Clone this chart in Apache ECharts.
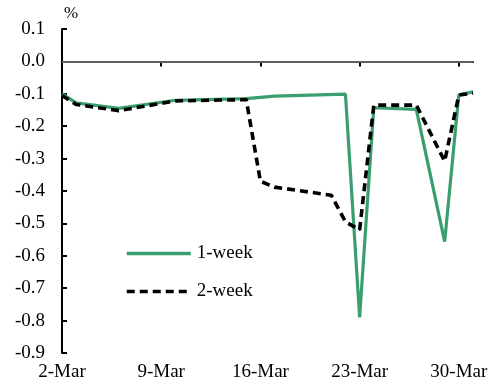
<!DOCTYPE html>
<html>
<head>
<meta charset="utf-8">
<script src="https://cdn.jsdelivr.net/npm/echarts@6/dist/echarts.min.js"></script>
<style>
html,body{margin:0;padding:0;background:#fff;}
#c{width:494px;height:391px;}
</style>
</head>
<body>
<div id="c"></div>
<script>
// Categories: every calendar day 2-Mar .. 31-Mar
var days = [];
for (var d = 2; d <= 31; d++) days.push(d + '-Mar');

// Series values (null = no observation, line joins observed points)
var oneWeek = [
  -0.100, -0.128, null, null, -0.145, null, null, null, -0.120, null,
  null, null, null, -0.115, null, -0.107, null, null, null, null,
  -0.101, -0.790, -0.143, null, null, -0.148, null, -0.556, -0.103, -0.094
];
var twoWeek = [
  -0.105, -0.133, null, null, -0.152, null, null, null, -0.122, null,
  null, null, null, -0.118, -0.370, -0.388, null, null, null, -0.413,
  -0.495, -0.520, -0.135, null, null, -0.135, null, -0.308, -0.104, -0.098
];

var yTicks = { min: -0.9, max: 0.1, step: 0.1 };
var seriesNames = ['1-week', '2-week'];

var FONT = "'Liberation Serif','Times New Roman',serif";
var chart = echarts.init(document.getElementById('c'));
chart.setOption({
  animation: false,
  backgroundColor: '#fff',
  grid: { left: 62, right: 21, top: 29, bottom: 38, containLabel: false },
  graphic: [{
    type: 'text', left: 64, top: 5,
    style: { text: '%', font: '17px ' + FONT, fill: '#000' }
  }],
  legend: {
    orient: 'vertical', left: 120, top: 239,
    itemWidth: 64, itemHeight: 14, itemGap: 19,
    itemStyle: { opacity: 0 },
    lineStyle: { width: 3.5 },
    textStyle: { fontFamily: FONT, fontSize: 19, color: '#000', padding: [0, 0, 0, 1] },
    data: seriesNames
  },
  xAxis: {
    type: 'category', data: days, boundaryGap: false,
    axisLine: { lineStyle: { color: '#000', width: 2 } },
    axisTick: { show: true, inside: false, length: 5, lineStyle: { width: 2, color: '#000' },
      interval: function (i) { return i % 7 === 0; } },
    axisLabel: { fontFamily: FONT, fontSize: 19, color: '#000', margin: 10,
      interval: function (i) { return i % 7 === 0; } },
    splitLine: { show: false }
  },
  yAxis: {
    type: 'value', min: yTicks.min, max: yTicks.max, interval: yTicks.step,
    axisLine: { show: true, lineStyle: { color: '#000', width: 2 } },
    axisTick: { show: true, inside: true, length: 5, lineStyle: { width: 2, color: '#000' } },
    axisLabel: { fontFamily: FONT, fontSize: 19, color: '#000', margin: 17,
      formatter: function (v) { return v.toFixed(1); } },
    splitLine: { show: false }
  },
  series: [
    {
      name: seriesNames[0], type: 'line', data: oneWeek, connectNulls: true,
      symbol: 'none', color: '#3a9e6e',
      lineStyle: { color: '#3a9e6e', width: 3.2 },
      markLine: {
        silent: true, symbol: 'none', label: { show: false },
        lineStyle: { color: '#7f7f7f', width: 1.5, type: 'solid' },
        data: [{ yAxis: 0 }]
      },
      z: 3
    },
    {
      name: seriesNames[1], type: 'line', data: twoWeek, connectNulls: true,
      symbol: 'none', color: '#000',
      lineStyle: { color: '#000', width: 3.6, type: [8, 5] },
      z: 4
    }
  ]
});
</script>
</body>
</html>
